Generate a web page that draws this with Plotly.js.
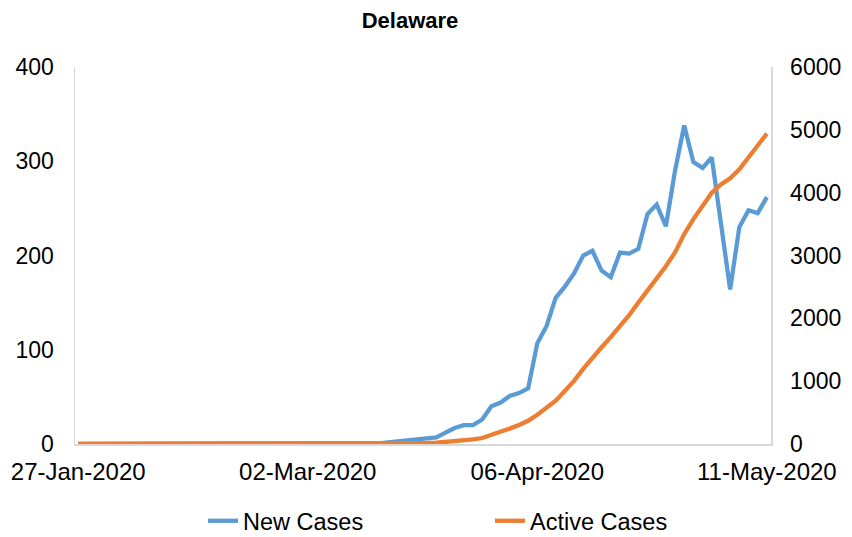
<!DOCTYPE html>
<html>
<head>
<meta charset="utf-8">
<script src="https://cdn.plot.ly/plotly-3.0.1.min.js"></script>
<style>
  html, body { margin: 0; padding: 0; background: #fff; }
  #chart { width: 852px; height: 537px; }
</style>
</head>
<body>
<div id="chart"></div>
<script>
// Business days (weekdays) from 27-Jan-2020 to 11-May-2020
const dates = [
  "2020-01-27","2020-01-28","2020-01-29","2020-01-30","2020-01-31",
  "2020-02-03","2020-02-04","2020-02-05","2020-02-06","2020-02-07",
  "2020-02-10","2020-02-11","2020-02-12","2020-02-13","2020-02-14",
  "2020-02-17","2020-02-18","2020-02-19","2020-02-20","2020-02-21",
  "2020-02-24","2020-02-25","2020-02-26","2020-02-27","2020-02-28",
  "2020-03-02","2020-03-03","2020-03-04","2020-03-05","2020-03-06",
  "2020-03-09","2020-03-10","2020-03-11","2020-03-12","2020-03-13",
  "2020-03-16","2020-03-17","2020-03-18","2020-03-19","2020-03-20",
  "2020-03-23","2020-03-24","2020-03-25","2020-03-26","2020-03-27",
  "2020-03-30","2020-03-31","2020-04-01","2020-04-02","2020-04-03",
  "2020-04-06","2020-04-07","2020-04-08","2020-04-09","2020-04-10",
  "2020-04-13","2020-04-14","2020-04-15","2020-04-16","2020-04-17",
  "2020-04-20","2020-04-21","2020-04-22","2020-04-23","2020-04-24",
  "2020-04-27","2020-04-28","2020-04-29","2020-04-30","2020-05-01",
  "2020-05-04","2020-05-05","2020-05-06","2020-05-07","2020-05-08",
  "2020-05-11"
];

const newCases = [
  0,0,0,0,0, 0,0,0,0,0, 0,0,0,0,0, 0,0,0,0,0, 0,0,0,0,0,
  0,0,0,0,0, 0,0,1,1,2, 3,4,5,6,7,
  12,17,20,20,26, 40,44,51,54,59,
  107,125,155,167,181, 200,205,184,177,203,
  202,207,244,254,231, 290,338,299,293,304,
  234,164,230,248,245, 262
];

const activeCases = [
  0,0,0,0,0, 0,0,0,0,0, 0,0,0,0,0, 0,0,0,0,0, 0,0,0,0,0,
  0,0,0,0,0, 0,0,1,2,4, 6,9,12,16,20,
  30,42,55,72,95, 140,188,245,303,370,
  465,570,690,843,1005, 1195,1380,1540,1700,1873,
  2050,2250,2440,2640,2830, 3050,3340,3580,3800,4000,
  4130,4230,4370,4550,4750, 4940
];

const tickDates = ["2020-01-27","2020-03-02","2020-04-06","2020-05-11"];
const tickLabels = ["27-Jan-2020","02-Mar-2020","06-Apr-2020","11-May-2020"];
const leftTicks = [0,100,200,300,400];
const rightTicks = [0,1000,2000,3000,4000,5000,6000];

const FONT = "'Liberation Sans', Arial, sans-serif";
const AXIS_GREY = "#d9d9d9";

const traces = [
  {
    x: dates, y: newCases, name: "New Cases", type: "scatter", mode: "lines",
    line: { color: "#5B9BD5", width: 4.3 }, yaxis: "y"
  },
  {
    x: dates, y: activeCases, name: "Active Cases", type: "scatter", mode: "lines",
    line: { color: "#ED7D31", width: 4.3 }, yaxis: "y2"
  }
];

const layout = {
  width: 852, height: 537,
  margin: { l: 75, r: 81, t: 67, b: 93 },
  paper_bgcolor: "#fff", plot_bgcolor: "#fff",
  font: { family: FONT, color: "#000", size: 23 },
  title: {
    text: "<b>Delaware</b>",
    font: { family: FONT, size: 22, color: "#000" },
    xref: "container", x: 410 / 852, xanchor: "center",
    yref: "container", y: 1 - 20 / 537, yanchor: "middle"
  },
  xaxis: {
    type: "category",
    range: [-0.35, dates.length - 1 + 0.45],
    tickmode: "array", tickvals: tickDates, ticktext: tickLabels,
    showgrid: false, zeroline: false,
    showline: true, linecolor: AXIS_GREY, linewidth: 1.5,
    ticks: "", ticklabelstandoff: 6,
    tickfont: { family: FONT, size: 24, color: "#000" },
    fixedrange: true
  },
  yaxis: {
    range: [0, 400], tickmode: "array", tickvals: leftTicks,
    showgrid: false, zeroline: false,
    showline: true, linecolor: AXIS_GREY, linewidth: 1.5,
    ticks: "", ticklabelstandoff: 15,
    tickfont: { family: FONT, size: 23, color: "#000" },
    fixedrange: true
  },
  yaxis2: {
    overlaying: "y", side: "right",
    range: [0, 6000], tickmode: "array", tickvals: rightTicks,
    showgrid: false, zeroline: false,
    showline: true, linecolor: AXIS_GREY, linewidth: 1.5,
    ticks: "", ticklabelstandoff: 13,
    tickfont: { family: FONT, size: 23, color: "#000" },
    fixedrange: true
  },
  showlegend: true,
  legend: {
    orientation: "h",
    xref: "container", yref: "container",
    x: 203 / 852, xanchor: "left",
    y: 16 / 537, yanchor: "middle",
    font: { family: FONT, size: 23.5, color: "#000" },
    entrywidth: 242, entrywidthmode: "pixels",
    bgcolor: "rgba(0,0,0,0)"
  }
};

Plotly.newPlot("chart", traces, layout, { displayModeBar: false, staticPlot: true });
</script>
</body>
</html>
